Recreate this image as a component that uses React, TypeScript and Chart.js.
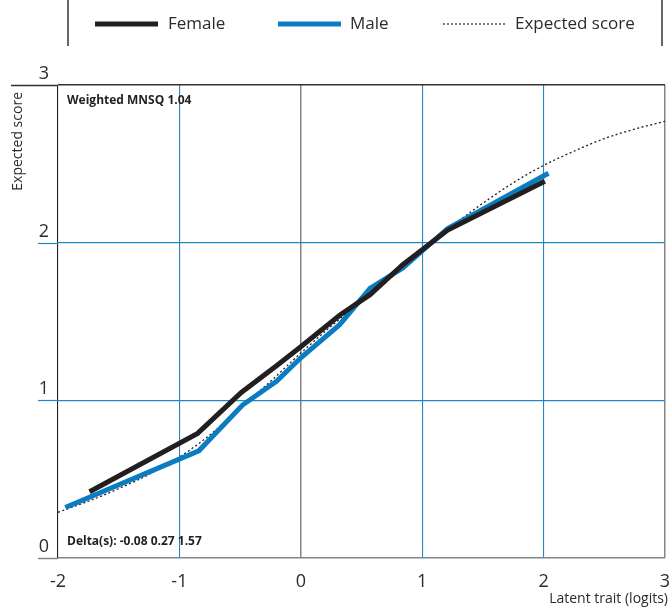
import React, { useEffect, useRef } from "react";
import { Chart, registerables } from "chart.js";

Chart.register(...registerables);

// ---- data ----
const xTicks = [-2, -1, 0, 1, 2, 3];
const yTicks = [0, 1, 2, 3];

const femaleX = [-1.74, -0.85, -0.49, -0.2, 0.0, 0.32, 0.57, 0.84, 1.21, 2.01];
const femaleY = [0.42, 0.79, 1.05, 1.22, 1.34, 1.54, 1.67, 1.86, 2.08, 2.39];

const maleX = [-1.94, -0.84, -0.48, -0.2, 0.0, 0.32, 0.57, 0.84, 1.21, 2.04];
const maleY = [0.32, 0.68, 0.97, 1.12, 1.27, 1.48, 1.71, 1.84, 2.09, 2.44];

const expectedX = [-2, -1.75, -1.5, -1.25, -1, -0.75, -0.5, -0.25, 0, 0.25, 0.5, 0.75, 1, 1.25, 1.5, 1.75, 2, 2.25, 2.5, 2.75, 3];
const expectedY = [0.29, 0.36, 0.44, 0.53, 0.64, 0.78, 0.95, 1.12, 1.3, 1.47, 1.63, 1.8, 1.96, 2.11, 2.25, 2.38, 2.49, 2.58, 2.66, 2.72, 2.77];

const legendLabels = ["Female", "Male", "Expected score"];
const xTitle = "Latent trait (logits)";
const yTitle = "Expected score";
const fitText = "Weighted MNSQ 1.04";
const deltaText = "Delta(s): -0.08 0.27 1.57";

// ---- styles ----
const BLACK = "#231f20";
const BLUE = "#0b7cc1";
const GRID_BLUE = "#2386c6";
const GRAY = "#858585";
const TEXT = "#2b2b2b";
const FONT = "'Open Sans', sans-serif";

const toPoints = (xs: number[], ys: number[]) => xs.map((x, i) => ({ x, y: ys[i] }));

const yGridColor = (v: number) => (v === 0 ? GRAY : v === 3 ? "#333333" : GRID_BLUE);
const xGridColor = (v: number) => (v === -2 ? BLACK : v === 0 || v === 3 ? GRAY : GRID_BLUE);

const decorPlugin = {
  id: "decor",
  afterDraw(chart: any) {
    const { ctx, chartArea, scales } = chart;
    const ys = scales.y;
    ctx.save();
    // y tick stubs extending left of the axis
    yTicks.forEach((v) => {
      const y = Math.round(ys.getPixelForValue(v)) + 0.5;
      ctx.beginPath();
      ctx.strokeStyle = yGridColor(v);
      ctx.lineWidth = v === 0 || v === 3 ? 1.5 : 1.2;
      ctx.moveTo(v === 3 ? 11 : 38, y);
      ctx.lineTo(chartArea.left, y);
      ctx.stroke();
    });

    // legend frame
    ctx.strokeStyle = "#333333";
    ctx.lineWidth = 1.5;
    [68, 662].forEach((x) => {
      ctx.beginPath();
      ctx.moveTo(x, 0);
      ctx.lineTo(x, 46);
      ctx.stroke();
    });
    const ly = 24;
    ctx.lineCap = "butt";
    // female
    ctx.beginPath();
    ctx.strokeStyle = BLACK;
    ctx.lineWidth = 5;
    ctx.moveTo(95, ly);
    ctx.lineTo(158, ly);
    ctx.stroke();
    // male
    ctx.beginPath();
    ctx.strokeStyle = BLUE;
    ctx.lineWidth = 5;
    ctx.moveTo(278, ly);
    ctx.lineTo(341, ly);
    ctx.stroke();
    // expected
    ctx.beginPath();
    ctx.strokeStyle = "#222222";
    ctx.lineWidth = 1.2;
    ctx.setLineDash([2, 2]);
    ctx.moveTo(443, ly);
    ctx.lineTo(505, ly);
    ctx.stroke();
    ctx.setLineDash([]);

    ctx.fillStyle = TEXT;
    ctx.font = `17px ${FONT}`;
    ctx.textBaseline = "middle";
    ctx.textAlign = "left";
    ctx.fillText(legendLabels[0], 168, ly);
    ctx.fillText(legendLabels[1], 350, ly);
    ctx.fillText(legendLabels[2], 515, ly);

    // annotations
    ctx.fillStyle = BLACK;
    ctx.font = `bold 12px ${FONT}`;
    ctx.fillText(fitText, 67, 101);
    ctx.fillText(deltaText, 67, 542);

    // axis titles
    ctx.fillStyle = TEXT;
    ctx.font = `14px ${FONT}`;
    ctx.textAlign = "right";
    ctx.textBaseline = "alphabetic";
    ctx.fillText(xTitle, 668, 603);

    ctx.save();
    ctx.translate(22, 92);
    ctx.rotate(-Math.PI / 2);
    ctx.textAlign = "right";
    ctx.textBaseline = "alphabetic";
    ctx.fillText(yTitle, 0, 0);
    ctx.restore();

    ctx.restore();
  },
};

export default function App() {
  const ref = useRef<HTMLCanvasElement | null>(null);

  useEffect(() => {
    if (!ref.current) return;
    const chart = new Chart(ref.current, {
      type: "line",
      data: {
        datasets: [
          {
            label: legendLabels[0],
            data: toPoints(femaleX, femaleY),
            borderColor: BLACK,
            backgroundColor: BLACK,
            borderWidth: 5,
            pointRadius: 0,
            tension: 0,
            fill: false,
          },
          {
            label: legendLabels[1],
            data: toPoints(maleX, maleY),
            borderColor: BLUE,
            backgroundColor: BLUE,
            borderWidth: 5,
            pointRadius: 0,
            tension: 0,
            fill: false,
          },
          {
            label: legendLabels[2],
            data: toPoints(expectedX, expectedY),
            borderColor: "#222222",
            borderWidth: 1.3,
            borderDash: [2, 2.5],
            pointRadius: 0,
            cubicInterpolationMode: "monotone",
            fill: false,
          },
        ],
      },
      options: {
        responsive: false,
        animation: false,
        layout: { padding: { top: 85, right: 4, left: 0, bottom: 0 } },
        plugins: {
          legend: { display: false },
          tooltip: { enabled: false },
          title: { display: false },
        },
        scales: {
          x: {
            type: "linear",
            min: -2,
            max: 3,
            border: { display: false },
            afterFit: (s: any) => {
              s.height = 55;
              s.paddingLeft = 0;
              s.paddingRight = 0;
            },
            afterBuildTicks: (s: any) => {
              s.ticks = xTicks.map((v) => ({ value: v }));
            },
            grid: {
              drawTicks: false,
              color: (c: any) => xGridColor(c.tick?.value),
              lineWidth: (c: any) => (c.tick?.value === 0 || c.tick?.value === 3 ? 1.5 : 1.1),
            },
            ticks: {
              padding: 13,
              color: TEXT,
              font: { family: FONT, size: 18 },
              maxRotation: 0,
            },
          },
          y: {
            type: "linear",
            min: 0,
            max: 3,
            border: { display: false },
            afterFit: (s: any) => {
              s.width = 58;
              s.paddingTop = 0;
              s.paddingBottom = 0;
            },
            afterBuildTicks: (s: any) => {
              s.ticks = yTicks.map((v) => ({ value: v }));
            },
            grid: {
              drawTicks: false,
              color: (c: any) => yGridColor(c.tick?.value),
              lineWidth: (c: any) => (c.tick?.value === 0 || c.tick?.value === 3 ? 1.5 : 1.2),
            },
            ticks: {
              padding: 9,
              labelOffset: -11,
              color: TEXT,
              font: { family: FONT, size: 18 },
            },
          },
        },
      },
      plugins: [decorPlugin],
    });
    return () => chart.destroy();
  }, []);

  return (
    <div style={{ position: "absolute", left: 0, top: 0, width: 669, height: 613, background: "#fff" }}>
      <canvas ref={ref} width={669} height={613} style={{ display: "block" }} />
    </div>
  );
}
